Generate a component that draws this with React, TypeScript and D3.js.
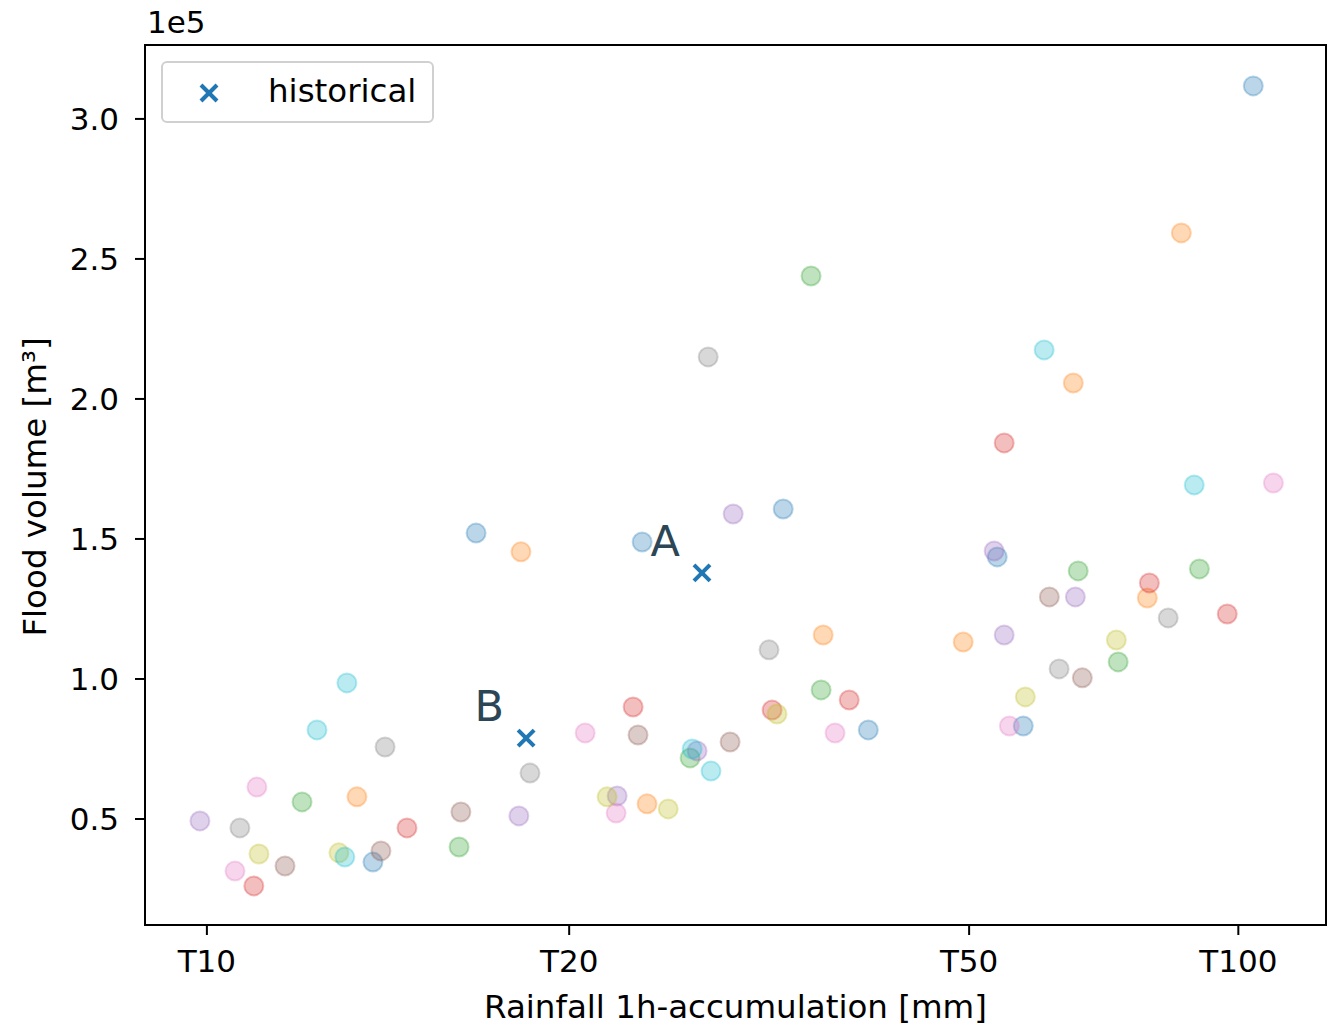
import React from "react";
import * as d3 from "d3";

const W = 1338;
const H = 1027;

// Tick labels (return periods) and their rainfall positions [mm]
const xTickLabels = ["T10", "T20", "T50", "T100"];
const xTickValues = [40.0, 54.05, 69.56, 80.0];
const yTickValues = [50000, 100000, 150000, 200000, 250000, 300000];

// tab10 palette
const palette = ["#1f77b4", "#ff7f0e", "#2ca02c", "#d62728", "#9467bd", "#8c564b", "#e377c2", "#7f7f7f", "#bcbd22", "#17becf"];

// Scenario series: rainfall [mm] and flood volume [m³]
const s0x = [50.44, 46.44, 56.88, 62.35, 65.65, 70.65, 71.66, 80.58];
const s0y = [152100, 34600, 148900, 160700, 81800, 143600, 83200, 311800];
const s1x = [52.18, 45.82, 63.9, 57.07, 73.6, 76.47, 69.33, 77.79];
const s1y = [145400, 57900, 115700, 55400, 205700, 128900, 113200, 259300];
const s2x = [43.69, 49.78, 63.82, 58.74, 73.79, 78.49, 75.34, 63.43];
const s2y = [56100, 40000, 96100, 71800, 138600, 139300, 106100, 243900];
const s3x = [47.76, 41.82, 56.53, 64.91, 61.92, 70.92, 76.55, 79.57];
const s3y = [46800, 26100, 90000, 92500, 88900, 184300, 134300, 123200];
const s4x = [39.73, 52.1, 60.41, 59.01, 55.91, 70.53, 73.68, 70.92];
const s4y = [49300, 51100, 158900, 74300, 58200, 145700, 129300, 115700];
const s5x = [49.85, 46.75, 43.03, 56.72, 60.29, 72.67, 73.95];
const s5y = [52500, 38600, 33200, 80000, 77500, 129300, 100400];
const s6x = [54.67, 41.94, 41.09, 64.36, 55.87, 81.36, 71.12];
const s6y = [80700, 61400, 31400, 80700, 52100, 170000, 83200];
const s7x = [46.91, 52.53, 41.28, 61.8, 77.28, 73.05, 59.44];
const s7y = [75700, 66400, 46800, 110400, 121800, 103600, 215000];
const s8x = [42.02, 45.12, 62.11, 55.52, 57.89, 75.27, 71.74];
const s8y = [37500, 37900, 87500, 57900, 53600, 113900, 93600];
const s9x = [45.43, 44.27, 45.35, 58.82, 59.55, 72.47, 78.29];
const s9y = [98600, 81800, 36400, 75000, 67100, 217500, 169300];

const seriesX = [s0x, s1x, s2x, s3x, s4x, s5x, s6x, s7x, s8x, s9x];
const seriesY = [s0y, s1y, s2y, s3y, s4y, s5y, s6y, s7y, s8y, s9y];

// Historical events
const histLabels = ["A", "B"];
const histX = [59.2, 52.38];
const histY = [137900, 78900];

const FONT = "DejaVu Sans, sans-serif";
const FS_TICK = 31;
const FS_LABEL = 32.5;

export default function App() {
  const left = 145, right = 1326, top = 45, bottom = 925;
  const x = d3.scaleLinear().domain([37.6, 83.4]).range([left, right]);
  const y = d3.scaleLinear().domain([12140, 326400]).range([bottom, top]);

  const pts: { cx: number; cy: number; c: string; k: string }[] = [];
  seriesX.forEach((xs, i) => {
    xs.forEach((v, j) => {
      pts.push({ cx: x(v), cy: y(seriesY[i][j]), c: palette[i % 10], k: `${i}-${j}` });
    });
  });

  const cross = (cx: number, cy: number, s: number, key: string) => (
    <g key={key} stroke="#1f77b4" strokeWidth={4} strokeLinecap="butt">
      <line x1={cx - s} y1={cy - s} x2={cx + s} y2={cy + s} />
      <line x1={cx - s} y1={cy + s} x2={cx + s} y2={cy - s} />
    </g>
  );

  return (
    <svg width={W} height={H} style={{ position: "absolute", left: 0, top: 0, background: "#fff" }} fontFamily={FONT}>
      <rect x={0} y={0} width={W} height={H} fill="#fff" />
      {/* scatter points */}
      {pts.map((p) => (
        <circle key={p.k} cx={p.cx} cy={p.cy} r={9.5} fill={p.c} fillOpacity={0.3} stroke={p.c} strokeOpacity={0.3} strokeWidth={2} />
      ))}
      {/* historical */}
      {histX.map((v, i) => cross(x(v), y(histY[i]), 8, "h" + i))}
      {histX.map((v, i) => (
        <text key={"t" + i} x={x(v) - 22} y={y(histY[i]) - 17} textAnchor="end" fontSize={43} fill="#2c4656" fontFamily="DejaVu Sans, sans-serif">
          {histLabels[i]}
        </text>
      ))}
      {/* axes frame */}
      <rect x={left} y={top} width={right - left} height={bottom - top} fill="none" stroke="#000" strokeWidth={2} />
      {/* x ticks */}
      {xTickValues.map((v, i) => (
        <g key={"xt" + i}>
          <line x1={x(v)} x2={x(v)} y1={bottom} y2={bottom + 10} stroke="#000" strokeWidth={2} />
          <text x={x(v)} y={bottom + 47} textAnchor="middle" fontSize={FS_TICK} fill="#000">{xTickLabels[i]}</text>
        </g>
      ))}
      {/* y ticks */}
      {yTickValues.map((v, i) => (
        <g key={"yt" + i}>
          <line x1={left - 10} x2={left} y1={y(v)} y2={y(v)} stroke="#000" strokeWidth={2} />
          <text x={left - 26} y={y(v) + 11} textAnchor="end" fontSize={FS_TICK} fill="#000">{(v / 1e5).toFixed(1)}</text>
        </g>
      ))}
      <text x={left + 2} y={33} fontSize={FS_TICK} fill="#000">1e5</text>
      {/* axis labels */}
      <text x={(left + right) / 2} y={1018} textAnchor="middle" fontSize={FS_LABEL} fill="#000">Rainfall 1h-accumulation [mm]</text>
      <text transform={`translate(46, ${(top + bottom) / 2 + 2}) rotate(-90)`} textAnchor="middle" fontSize={FS_LABEL} fill="#000">Flood volume [m³]</text>
      {/* legend */}
      <rect x={162} y={62} width={271} height={60} rx={5} fill="#fff" fillOpacity={0.8} stroke="#d0d0d0" strokeWidth={2} />
      {cross(209, 93, 8, "leg")}
      <text x={268} y={102} fontSize={FS_LABEL} fill="#000">historical</text>
    </svg>
  );
}
